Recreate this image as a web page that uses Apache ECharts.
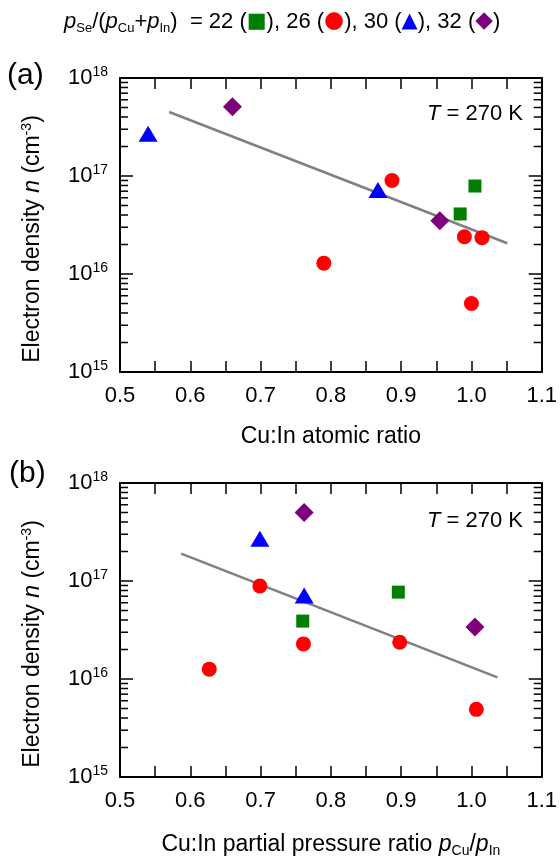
<!DOCTYPE html>
<html><head><meta charset="utf-8">
<script src="https://cdn.jsdelivr.net/npm/echarts@6/dist/echarts.min.js"></script>
<style>html,body{margin:0;padding:0;background:#fff}#c{width:560px;height:861px}</style>
</head><body><div id="c"></div>
<script>
// ---- data ----
const xTicks = [0.5, 0.6, 0.7, 0.8, 0.9, 1.0, 1.1];
const yDecades = [15, 16, 17, 18];
// panel (a): Cu:In atomic ratio
const sq22A = [[0.984, 4.1e16], [1.005, 7.9e16]];
const c26A  = [[0.790, 1.29e16], [0.887, 9.0e16], [0.990, 2.4e16], [1.015, 2.35e16], [1.000, 5.0e15]];
const t30A  = [[0.540, 2.7e17], [0.867, 7.2e16]];
const d32A  = [[0.660, 5.1e17], [0.955, 3.5e16]];
const fitA  = [[0.570, 4.5e17], [1.051, 2.06e16]];
// panel (b): Cu:In partial pressure ratio
const sq22B = [[0.760, 3.9e16], [0.896, 7.7e16]];
const c26B  = [[0.627, 1.26e16], [0.699, 8.9e16], [0.761, 2.28e16], [0.898, 2.37e16], [1.007, 4.9e15]];
const t30B  = [[0.699, 2.7e17], [0.762, 7.1e16]];
const d32B  = [[0.762, 5.0e17], [1.005, 3.4e16]];
const fitB  = [[0.587, 1.9e17], [1.037, 1.04e16]];

const FONT = '"Liberation Sans", Arial, sans-serif';
const xMin = xTicks[0], xMax = xTicks[xTicks.length - 1];
const yMin = Math.pow(10, yDecades[0]), yMax = Math.pow(10, yDecades[yDecades.length - 1]);

// minor log tick values (2..9 x 10^d)
const minorVals = [];
for (let d = yDecades[0]; d < yDecades[yDecades.length - 1]; d++)
  for (let k = 2; k <= 9; k++) minorVals.push([xMin, k * Math.pow(10, d)]);

const GRIDS = [{left: 120, top: 78, width: 425, height: 294}, {left: 120, top: 483, width: 425, height: 294}];

const lineStyle = {color: '#000', width: 2};
const TS = 23; // title size
function xAx(g, bottom, name, gap) {
  return {
    type: 'value', gridIndex: g, min: xMin, max: xMax, interval: 0.1,
    position: bottom ? 'bottom' : 'top',
    axisLine: {show: true, onZero: false, lineStyle},
    axisTick: {show: true, inside: true, length: 11, lineStyle: {color: '#000', width: 1.5}},
    minorTick: {show: true, splitNumber: 2, length: 11, lineStyle: {color: '#000', width: 1.5}},
    splitLine: {show: false},
    axisLabel: {show: bottom, margin: 13, fontSize: 22, color: '#000', fontFamily: FONT,
      formatter: v => v.toFixed(1)},
    name: bottom ? name : '', nameLocation: 'middle', nameGap: gap || 50,
    nameTextStyle: {fontSize: TS, color: '#000', fontFamily: FONT,
      rich: {n: {fontSize: TS, fontFamily: FONT, color: '#000'},
             i: {fontSize: TS, fontStyle: 'italic', fontFamily: FONT, color: '#000'},
             s: {fontSize: 14, fontFamily: FONT, color: '#000', padding: [12, 0, 0, 0]}}}
  };
}
function yAx(g, left) {
  return {
    type: 'log', logBase: 10, gridIndex: g, min: yMin, max: yMax,
    position: left ? 'left' : 'right',
    axisLine: {show: true, lineStyle},
    axisTick: {show: true, inside: true, length: 13, lineStyle: {color: '#000', width: 1.5}},
    splitLine: {show: false},
    axisLabel: {show: left, margin: 12, color: '#000', fontFamily: FONT,
      formatter: v => '{b|10}{s|' + Math.round(Math.log10(v)) + '}',
      rich: {b: {fontSize: 22, fontFamily: FONT, color: '#000'},
             s: {fontSize: 14, fontFamily: FONT, color: '#000', padding: [0, 0, 12, 0]}}},
    name: left ? '{n|Electron density }{i|n}{n| (cm}{s|-3}{n|)}' : '',
    nameLocation: 'middle', nameRotate: 90, nameGap: 74,
    nameTextStyle: {color: '#000', fontFamily: FONT, fontSize: TS, padding: [0, 28, 0, 0],
      rich: {n: {fontSize: TS, fontFamily: FONT, color: '#000'},
             i: {fontSize: TS, fontStyle: 'italic', fontFamily: FONT, color: '#000'},
             s: {fontSize: 14, fontFamily: FONT, color: '#000', padding: [0, 0, 12, 0]}}}
  };
}

function minorSeries(g) {
  return {
    type: 'custom', xAxisIndex: 2 * g, yAxisIndex: 2 * g, silent: true, z: 5,
    data: minorVals, clip: false,
    renderItem: (params, api) => {
      const y = api.value(1);
      const pL = api.coord([xMin, y]);
      const pR = api.coord([xMax, y]);
      const st = {stroke: '#000', lineWidth: 1.5};
      return {type: 'group', children: [
        {type: 'line', shape: {x1: pL[0], y1: pL[1], x2: pL[0] + 8, y2: pL[1]}, style: st},
        {type: 'line', shape: {x1: pR[0], y1: pR[1], x2: pR[0] - 8, y2: pR[1]}, style: st}
      ]};
    }
  };
}

function pts(g, data, symbol, size, color) {
  return {type: 'scatter', xAxisIndex: 2 * g, yAxisIndex: 2 * g, data, symbol, symbolSize: size,
    itemStyle: {color, opacity: 1}, z: 10, silent: true};
}
function fit(g, data) {
  return {type: 'line', xAxisIndex: 2 * g, yAxisIndex: 2 * g, data, showSymbol: false, symbol: 'none',
    lineStyle: {color: '#808080', width: 2.5}, z: 3, silent: true};
}

const GREEN = '#007F00', RED = '#FF0000', BLUE = '#0000FF', PURPLE = '#7F007F';
const SQ = 13, CI = 15, TRI = [19, 16], DIA = [19, 19];
const tLabel = {
  text: '{i|T}{n| = 270 K}',
  rich: {i: {fontSize: 22, fontStyle: 'italic', fontFamily: FONT, fill: '#000'},
         n: {fontSize: 22, fontFamily: FONT, fill: '#000'}}};

const option = {
  animation: false,
  grid: GRIDS,
  xAxis: [xAx(0, true, 'Cu:In atomic ratio', 53), xAx(0, false),
          xAx(1, true, '{n|Cu:In partial pressure ratio }{i|p}{s|Cu}{n|/}{i|p}{s|In}', 55), xAx(1, false)],
  yAxis: [yAx(0, true), yAx(0, false), yAx(1, true), yAx(1, false)],
  series: [
    fit(0, fitA), minorSeries(0),
    pts(0, sq22A, 'rect', SQ, GREEN), pts(0, c26A, 'circle', CI, RED),
    pts(0, t30A, 'triangle', TRI, BLUE), pts(0, d32A, 'diamond', DIA, PURPLE),
    fit(1, fitB), minorSeries(1),
    pts(1, sq22B, 'rect', SQ, GREEN), pts(1, c26B, 'circle', CI, RED),
    pts(1, t30B, 'triangle', TRI, BLUE), pts(1, d32B, 'diamond', DIA, PURPLE)
  ],
  graphic: [
    {type: 'text', left: 64, top: 10, style: {
      text: '{i|p}{s|Se}{n|/(}{i|p}{s|Cu}{n|+}{i|p}{s|In}{n|)  = 22 (}{g|■}{n|), 26 (}{r|●}{n|), 30 (}{b|▲}{n|), 32 (}{p|◆}{n|)}',
      rich: {
        n: {fontSize: 22, fontFamily: FONT, fill: '#000'},
        i: {fontSize: 22, fontStyle: 'italic', fontFamily: FONT, fill: '#000'},
        s: {fontSize: 13, fontFamily: FONT, fill: '#000', padding: [13, 0, 0, 0]},
        g: {fontSize: 21, fontFamily: '"DejaVu Sans"', fill: GREEN},
        r: {fontSize: 23, fontFamily: '"DejaVu Sans"', fill: RED},
        b: {fontSize: 21, fontFamily: '"DejaVu Sans"', fill: BLUE},
        p: {fontSize: 23, fontFamily: '"DejaVu Sans"', fill: PURPLE}
      }}},
    {type: 'text', left: 7, top: 61, style: {text: '(a)', fontSize: 30, fontFamily: FONT, fill: '#000'}},
    {type: 'text', left: 9, top: 459, style: {text: '(b)', fontSize: 30, fontFamily: FONT, fill: '#000'}},
    {type: 'text', right: 37, top: 103, style: tLabel},
    {type: 'text', right: 37, top: 510, style: tLabel}
  ]
};
const chart = echarts.init(document.getElementById('c'), null, {renderer: 'canvas'});
chart.setOption(option);
</script></body></html>
